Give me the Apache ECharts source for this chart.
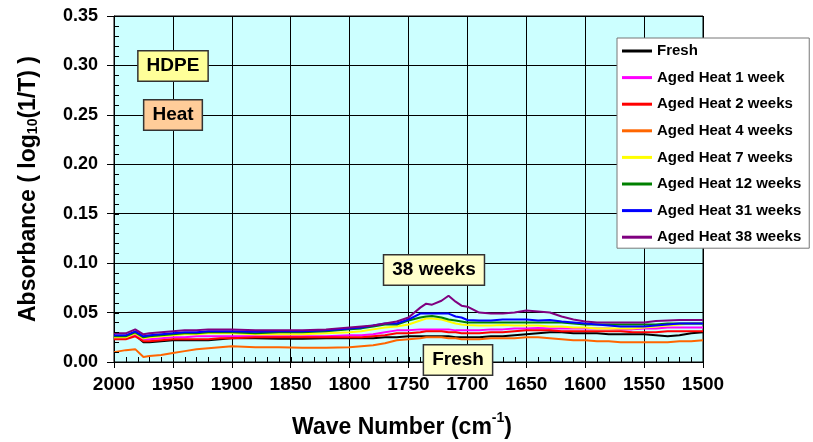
<!DOCTYPE html>
<html>
<head>
<meta charset="utf-8">
<script src="https://cdn.jsdelivr.net/npm/echarts@6/dist/echarts.min.js"></script>
<style>
html,body{margin:0;padding:0;background:#fff;}
#chart{width:813px;height:442px;}
</style>
</head>
<body>
<div id="chart"></div>
<script>
// ---- data ----
const waveNumbers = [2000,1990,1982,1975,1970,1960,1950,1940,1930,1920,1910,1900,1880,1860,1840,1820,1800,1790,1780,1770,1760,1750,1740,1735,1730,1722,1716,1710,1705,1700,1690,1680,1670,1660,1650,1640,1630,1620,1610,1600,1590,1580,1570,1560,1550,1540,1530,1520,1510,1500];

const seriesNames = ['Fresh','Aged Heat 1 week','Aged Heat 2 weeks','Aged Heat 4 weeks','Aged Heat 7 weeks','Aged Heat 12 weeks','Aged Heat 31 weeks','Aged Heat 38 weeks'];
const seriesColors = ['#000000','#ff00ff','#ff0000','#ff6600','#ffff00','#008000','#0000ff','#800080'];

const fresh = [0.024,0.024,0.027,0.020,0.020,0.021,0.022,0.022,0.022,0.022,0.023,0.024,0.024,0.0235,0.0235,0.024,0.024,0.024,0.024,0.025,0.025,0.026,0.026,0.026,0.026,0.026,0.026,0.025,0.025,0.025,0.025,0.026,0.026,0.027,0.028,0.029,0.030,0.030,0.029,0.029,0.029,0.028,0.028,0.028,0.028,0.027,0.026,0.027,0.029,0.030];
const week1 = [0.024,0.024,0.027,0.023,0.023,0.024,0.025,0.025,0.026,0.026,0.026,0.026,0.026,0.026,0.026,0.026,0.027,0.027,0.028,0.030,0.032,0.032,0.033,0.033,0.033,0.033,0.033,0.032,0.032,0.032,0.032,0.033,0.033,0.034,0.034,0.0345,0.034,0.034,0.034,0.034,0.034,0.034,0.033,0.033,0.034,0.034,0.035,0.035,0.035,0.035];
const week2 = [0.023,0.023,0.026,0.021,0.021,0.022,0.023,0.023,0.023,0.023,0.024,0.024,0.025,0.025,0.025,0.025,0.025,0.025,0.026,0.027,0.029,0.029,0.030,0.031,0.031,0.031,0.030,0.030,0.029,0.029,0.029,0.030,0.030,0.031,0.032,0.032,0.032,0.031,0.031,0.031,0.031,0.031,0.031,0.030,0.030,0.030,0.031,0.031,0.031,0.031];
const week4 = [0.010,0.012,0.013,0.005,0.006,0.007,0.009,0.011,0.013,0.014,0.015,0.016,0.015,0.015,0.0145,0.0145,0.015,0.016,0.017,0.019,0.022,0.023,0.024,0.025,0.025,0.025,0.024,0.024,0.023,0.023,0.023,0.024,0.024,0.024,0.025,0.025,0.024,0.023,0.022,0.022,0.021,0.021,0.020,0.020,0.020,0.020,0.020,0.021,0.021,0.022];
const week7 = [0.025,0.025,0.029,0.024,0.025,0.026,0.027,0.028,0.028,0.029,0.029,0.029,0.028,0.028,0.028,0.029,0.030,0.031,0.033,0.035,0.036,0.038,0.042,0.044,0.044,0.043,0.041,0.039,0.038,0.0375,0.037,0.037,0.0375,0.037,0.037,0.037,0.036,0.036,0.035,0.035,0.034,0.034,0.034,0.034,0.035,0.036,0.037,0.038,0.039,0.039];
const week12 = [0.026,0.026,0.030,0.025,0.026,0.027,0.028,0.029,0.029,0.030,0.030,0.030,0.029,0.030,0.030,0.031,0.033,0.034,0.036,0.038,0.038,0.042,0.045,0.046,0.0466,0.045,0.043,0.042,0.041,0.040,0.040,0.040,0.040,0.040,0.040,0.040,0.040,0.040,0.039,0.038,0.038,0.038,0.038,0.038,0.038,0.038,0.039,0.039,0.039,0.039];
const week31 = [0.027,0.027,0.031,0.026,0.027,0.028,0.029,0.030,0.030,0.031,0.031,0.031,0.0305,0.031,0.031,0.032,0.034,0.035,0.037,0.039,0.039,0.043,0.049,0.049,0.049,0.049,0.049,0.046,0.045,0.0425,0.042,0.042,0.043,0.043,0.043,0.042,0.0425,0.041,0.040,0.039,0.038,0.037,0.036,0.036,0.036,0.037,0.038,0.039,0.039,0.039];
const week38 = [0.029,0.029,0.033,0.028,0.029,0.030,0.031,0.032,0.032,0.033,0.033,0.033,0.032,0.032,0.032,0.033,0.035,0.036,0.037,0.039,0.041,0.045,0.055,0.059,0.058,0.062,0.067,0.061,0.057,0.056,0.050,0.049,0.049,0.050,0.052,0.051,0.050,0.046,0.043,0.041,0.040,0.040,0.040,0.040,0.040,0.0415,0.042,0.0425,0.0425,0.0425];
const seriesValues = [fresh, week1, week2, week4, week7, week12, week31, week38];

const yTicks = [0, 0.35, 0.05, 0.01];      // min, max, major interval, minor interval
const xTicks = [1500, 2000, 50, 10];

// ---- chart ----
const FONT = '"Liberation Sans", Arial, sans-serif';
const chart = echarts.init(document.getElementById('chart'), null, {renderer: 'canvas'});

const measureCtx = document.createElement('canvas').getContext('2d');
function measure(text, size) {
  measureCtx.font = 'bold ' + size + 'px ' + FONT;
  return measureCtx.measureText(text).width;
}
// pieces: [text, fontSize, dy]; returns a group centred on (x, y)
function richTitle(pieces, x, y, rotation) {
  const widths = pieces.map(p => measure(p[0], p[1]));
  const total = widths.reduce((a, b) => a + b, 0);
  let cx = -total / 2;
  const children = pieces.map((p, i) => {
    const el = {
      type: 'text', x: cx, y: p[2],
      style: {text: p[0], font: 'bold ' + p[1] + 'px ' + FONT, fill: '#000', align: 'left', verticalAlign: 'middle'}
    };
    cx += widths[i];
    return el;
  });
  return {type: 'group', x: x, y: y, rotation: rotation || 0, z: 100, children: children};
}

const series = seriesNames.map((name, i) => ({
  name: name,
  type: 'line',
  showSymbol: false,
  symbol: 'none',
  lineStyle: {color: seriesColors[i], width: 2},
  itemStyle: {color: seriesColors[i]},
  data: waveNumbers.map((w, j) => [w, seriesValues[i][j]]),
  z: 3,
  animation: false
}));

// minor tick positions (axis decoration), generated from the tick settings
const xMinor = [];
for (let k = 0; xTicks[0] + k * xTicks[3] <= xTicks[1]; k++) xMinor.push([xTicks[0] + k * xTicks[3], yTicks[0]]);
const yMinor = [];
for (let k = 0; k * yTicks[3] <= yTicks[1] - yTicks[0] + 1e-9; k++) yMinor.push([xTicks[1], +(yTicks[0] + k * yTicks[3]).toFixed(4)]);

const TICK = 5;
series.push({
  type: 'custom', silent: true, z: 4, clip: false, animation: false,
  data: xMinor,
  renderItem: (params, api) => {
    const p = api.coord([api.value(0), api.value(1)]);
    const x = Math.round(p[0]) + 0.5;
    return {type: 'line', shape: {x1: x, y1: p[1], x2: x, y2: p[1] - TICK}, style: {stroke: '#000', lineWidth: 1}};
  }
});
series.push({
  type: 'custom', silent: true, z: 4, clip: false, animation: false,
  data: yMinor,
  renderItem: (params, api) => {
    const p = api.coord([api.value(0), api.value(1)]);
    const y = Math.round(p[1]) + 0.5;
    return {type: 'line', shape: {x1: p[0], y1: y, x2: p[0] + TICK, y2: y}, style: {stroke: '#000', lineWidth: 1}};
  }
});

const annot = (text, x, y, bg) => ({
  type: 'text',
  x: x, y: y, z: 100,
  style: {
    text: text,
    font: 'bold 19px ' + FONT,
    fill: '#000',
    align: 'center',
    verticalAlign: 'middle',
    backgroundColor: bg,
    borderColor: '#333',
    borderWidth: 1.5,
    padding: [5, 8, 5, 8]
  }
});

chart.setOption({
  animation: false,
  backgroundColor: '#ffffff',
  grid: {left: 114, right: 110, top: 16, bottom: 80, show: true, backgroundColor: '#ccffff', borderColor: '#000', borderWidth: 1},
  xAxis: {
    type: 'value', inverse: true, min: xTicks[0], max: xTicks[1], interval: xTicks[2],
    axisLine: {show: true, onZero: false, lineStyle: {color: '#000', width: 1}},
    axisTick: {show: true, inside: false, length: 6, lineStyle: {color: '#000'}},
    axisLabel: {color: '#000', fontFamily: FONT, fontWeight: 'bold', fontSize: 19, margin: 13, formatter: v => String(v)},
    splitLine: {show: true, lineStyle: {color: '#000', width: 1}}
  },
  yAxis: {
    type: 'value', min: yTicks[0], max: yTicks[1], interval: yTicks[2],
    axisLine: {show: true, onZero: false, lineStyle: {color: '#000', width: 1}},
    axisTick: {show: true, inside: false, length: 7, lineStyle: {color: '#000'}},
    axisLabel: {color: '#000', fontFamily: FONT, fontWeight: 'bold', fontSize: 18, margin: 16, formatter: v => v.toFixed(2)},
    splitLine: {show: true, lineStyle: {color: '#000', width: 1}}
  },
  legend: {
    orient: 'vertical', left: 617, top: 38,
    backgroundColor: '#fff', borderColor: '#777', borderWidth: 1,
    padding: [5, 8, 3, 5],
    itemWidth: 30, itemHeight: 3, itemGap: 10.6,
    icon: 'rect',
    textStyle: {color: '#000', fontFamily: FONT, fontWeight: 'bold', fontSize: 15, lineHeight: 16},
    data: seriesNames
  },
  series: series,
  graphic: [
    annot('HDPE', 173, 66, '#ffff99'),
    annot('Heat', 173, 115, '#ffcc99'),
    annot('38 weeks', 434, 270, '#ffffcc'),
    annot('Fresh', 458, 360, '#ffffcc'),
    richTitle([['Wave Number (cm', 23, 0], ['-1', 14, -10], [')', 23, 0]], 402, 428, 0),
    richTitle([['Absorbance ( log', 23, 0], ['10', 14, 4], ['(1/T) )', 23, 0]], 29, 189, Math.PI / 2)
  ]
});
</script>
</body>
</html>
